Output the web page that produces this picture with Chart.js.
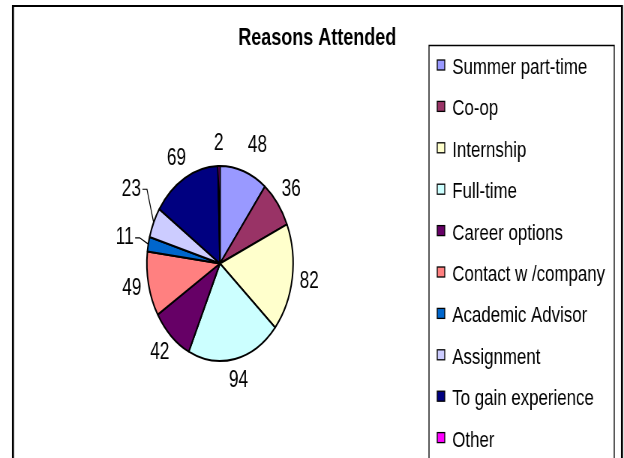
<!DOCTYPE html>
<html>
<head>
<meta charset="utf-8">
<script src="https://cdn.jsdelivr.net/npm/chart.js"></script>
<style>
  html, body { margin: 0; padding: 0; background: #fff; }
  /* the reference is squeezed horizontally, so draw wide and shrink it */
  #pieCanvas { display: block; width: 624px; height: 458px; }
</style>
</head>
<body>
<canvas id="pieCanvas" width="832" height="458" style="width:624px;height:458px"></canvas>
<script>
const chartTitle = 'Reasons Attended';
const reasons = ['Summer part-time', 'Co-op', 'Internship', 'Full-time', 'Career options',
                 'Contact w /company', 'Academic Advisor', 'Assignment', 'To gain experience', 'Other'];
const counts = [48, 36, 82, 94, 42, 49, 11, 23, 69, 2];
const sliceColors = ['#9999FF', '#993366', '#FFFFCC', '#CCFFFF', '#660066',
                     '#FF8080', '#0066CC', '#CCCCFF', '#000080', '#FF00FF'];

const FONT = '"Liberation Sans", Arial, sans-serif';

// labels that were dragged off their default spot in the original (dx, dy, leader line)
const labelNudge = { 0: [11, -5, false], 6: [-10, -2, true], 7: [-9, -24, true] };

const decor = {
    id: 'decor',
    beforeDraw(chart) {
        const ctx = chart.ctx;
        ctx.save();
        ctx.fillStyle = '#fff';
        ctx.fillRect(0, 0, chart.width, chart.height);
        ctx.strokeStyle = '#000';
        // outer frame (bottom edge is off the picture)
        ctx.lineWidth = 2;
        ctx.beginPath();
        ctx.moveTo(16, 6); ctx.lineTo(830, 6);
        ctx.stroke();
        ctx.lineWidth = 2.7;
        ctx.beginPath();
        ctx.moveTo(17.3, 5); ctx.lineTo(17.3, 470);
        ctx.moveTo(829.3, 5); ctx.lineTo(829.3, 470);
        ctx.stroke();
        ctx.restore();
    },
    afterDatasetsDraw(chart) {
        const ctx = chart.ctx;
        const arcs = chart.getDatasetMeta(0).data;
        ctx.save();
        ctx.font = '23px ' + FONT;
        ctx.fillStyle = '#000';
        ctx.strokeStyle = '#000';
        ctx.lineWidth = 1.2;
        ctx.textAlign = 'center';
        ctx.textBaseline = 'middle';
        arcs.forEach((arc, i) => {
            const mid = (arc.startAngle + arc.endAngle) / 2;
            const r = arc.outerRadius;
            const txt = String(counts[i]);
            const w = ctx.measureText(txt).width;
            const h = 24;
            const gap = 10;
            let x = arc.x + (r + gap) * Math.cos(mid) + (w / 2) * Math.cos(mid);
            let y = arc.y + (r + gap) * Math.sin(mid) + (h / 2) * Math.sin(mid);
            const nudge = labelNudge[i];
            if (nudge) {
                x += nudge[0];
                y += nudge[1];
                if (nudge[2]) {
                    const sx = x + w / 2 + 2;
                    ctx.beginPath();
                    ctx.moveTo(sx, y);
                    ctx.lineTo(sx + 6, y);
                    ctx.lineTo(arc.x + r * Math.cos(mid), arc.y + r * Math.sin(mid));
                    ctx.stroke();
                }
            }
            ctx.fillText(txt, x, y);
        });
        ctx.restore();
    },
    afterDraw(chart) {
        const ctx = chart.ctx;
        const ds = chart.data.datasets[0];
        ctx.save();
        // title
        ctx.fillStyle = '#000';
        ctx.font = 'bold 24px ' + FONT;
        ctx.textAlign = 'center';
        ctx.textBaseline = 'alphabetic';
        ctx.fillText(chartTitle, 423, 45);

        // legend box
        ctx.strokeStyle = '#000';
        ctx.lineWidth = 1.3;
        ctx.beginPath();
        ctx.moveTo(572, 470); ctx.lineTo(572, 45.5); ctx.lineTo(819, 45.5); ctx.lineTo(819, 470);
        ctx.stroke();

        ctx.font = '22.5px ' + FONT;
        ctx.textAlign = 'left';
        chart.data.labels.forEach((lab, i) => {
            const base = 74 + i * 41.4;
            ctx.fillStyle = ds.backgroundColor[i];
            ctx.fillRect(583, base - 14, 10, 10);
            ctx.lineWidth = 1.3;
            ctx.strokeRect(583, base - 14, 10, 10);
            ctx.fillStyle = '#000';
            ctx.fillText(lab, 603, base);
        });
        ctx.restore();
    }
};

new Chart(document.getElementById('pieCanvas'), {
    type: 'pie',
    data: {
        labels: reasons,
        datasets: [{
            data: counts,
            backgroundColor: sliceColors,
            borderColor: '#000',
            borderWidth: 2
        }]
    },
    options: {
        responsive: false,
        devicePixelRatio: 1,
        animation: false,
        layout: { padding: { left: 194.8, right: 440.2, top: 165, bottom: 96 } },
        plugins: {
            legend: { display: false },
            title: { display: false },
            tooltip: { enabled: false }
        }
    },
    plugins: [decor]
});
</script>
</body>
</html>
